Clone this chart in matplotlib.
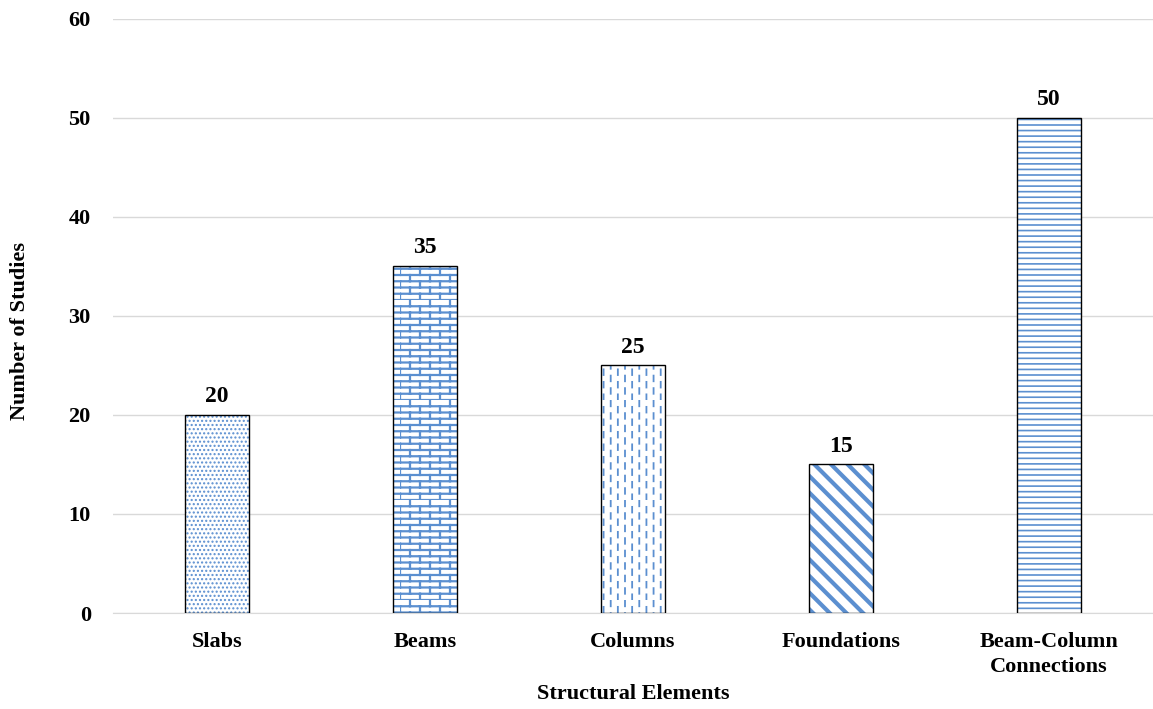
import warnings
import numpy as np
import matplotlib
import matplotlib.pyplot as plt
from matplotlib import hatch as mhatch
from matplotlib.path import Path

warnings.filterwarnings("ignore")

plt.rcParams['font.family'] = ['Liberation Serif', 'DejaVu Serif']
plt.rcParams['font.weight'] = 'bold'

categories = ["Slabs", "Beams", "Columns", "Foundations", "Beam-Column\nConnections"]
studies = [20, 35, 25, 15, 50]
hatches = ["....", "b", "k", "\\\\", "---"]
hatch_widths = [1.0, 1.6, 1.3, 3.0, 1.2]

HATCH_BLUE = "#5b8fd0"


class BrickHatch(mhatch.HatchPatternBase):
    """砖墙纹理"""
    rows, cols = 16, 5

    def __init__(self, hatch, density):
        self.on = 'b' in hatch
        self.num_vertices = (self.rows * 2 + self.rows * self.cols * 2) if self.on else 0

    def set_vertices_and_codes(self, vertices, codes):
        h = 1.0 / self.rows
        w = 1.0 / self.cols
        i = 0
        for r in range(self.rows):
            y = r * h
            vertices[i] = (0.0, y); vertices[i + 1] = (1.0, y)
            codes[i] = Path.MOVETO; codes[i + 1] = Path.LINETO
            i += 2
        for r in range(self.rows):
            off = 0.0 if r % 2 == 0 else w / 2
            for c in range(self.cols):
                x = c * w + off
                vertices[i] = (x, r * h); vertices[i + 1] = (x, (r + 1) * h)
                codes[i] = Path.MOVETO; codes[i + 1] = Path.LINETO
                i += 2


class DashHatch(mhatch.HatchPatternBase):
    """竖向虚线纹理"""
    cols, dashes = 14, 8

    def __init__(self, hatch, density):
        self.on = 'k' in hatch
        self.num_vertices = self.cols * self.dashes * 2 if self.on else 0

    def set_vertices_and_codes(self, vertices, codes):
        w = 1.0 / self.cols
        p = 1.0 / self.dashes
        i = 0
        for c in range(self.cols):
            x = c * w + w / 2
            off = 0.0 if c % 2 == 0 else p / 2
            for d in range(self.dashes):
                y0 = d * p + off
                vertices[i] = (x, y0); vertices[i + 1] = (x, y0 + p * 0.45)
                codes[i] = Path.MOVETO; codes[i + 1] = Path.LINETO
                i += 2


mhatch._hatch_types.extend([BrickHatch, DashHatch])

fig = plt.figure(figsize=(11.53, 7.09), dpi=100)
ax = fig.add_axes([0.098, 0.1354, 0.902, 0.838])

x = np.arange(len(categories))
width = 0.31

for xi, val, h, lw in zip(x, studies, hatches, hatch_widths):
    with matplotlib.rc_context({'hatch.linewidth': lw, 'hatch.color': HATCH_BLUE}):
        ax.bar(xi, val, width, color="white", edgecolor=HATCH_BLUE, hatch=h,
               linewidth=0, zorder=2)
    ax.bar(xi, val, width, fill=False, edgecolor="black", linewidth=1.0, zorder=3)
    ax.text(xi, val + 0.8, f"{val}", ha="center", va="bottom", fontsize=17,
            fontweight="bold")

ax.set_xlim(-0.5, 4.5)
ax.set_ylim(0, 60)
ax.set_yticks(range(0, 61, 10))
ax.set_xticks(x)
ax.set_xticklabels(categories, fontsize=16, fontweight="bold", linespacing=1.3)
ax.tick_params(axis="y", labelsize=16, length=0, pad=16)
ax.tick_params(axis="x", length=0, pad=14)
ax.grid(axis="y", color="#d9d9d9", linewidth=1.0, zorder=0)
ax.set_axisbelow(True)
for s in ["top", "right", "left"]:
    ax.spines[s].set_visible(False)
ax.spines["bottom"].set_color("#d9d9d9")

ax.set_xlabel("Structural Elements", fontsize=16, fontweight="bold")
ax.xaxis.set_label_coords(0.5, -0.12)
ax.set_ylabel("Number of Studies", fontsize=16, fontweight="bold")
ax.yaxis.set_label_coords(-0.08, 0.475)

plt.savefig("out.png", dpi=100)
plt.close()
